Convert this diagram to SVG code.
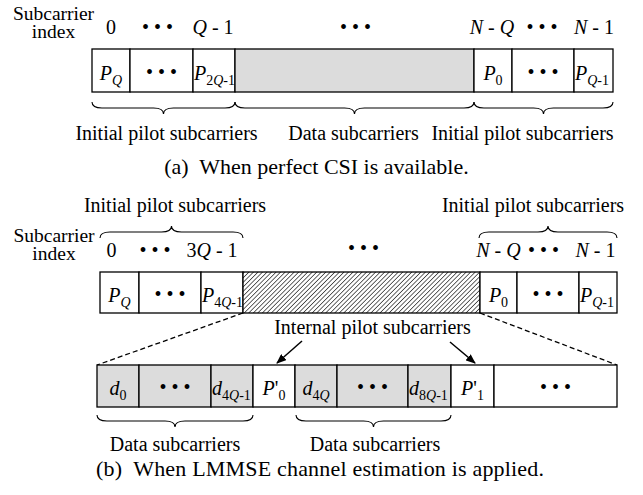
<svg xmlns="http://www.w3.org/2000/svg" width="643" height="495" viewBox="0 0 643 495">
<style>
text{font-family:"Liberation Serif","Times New Roman",serif;font-size:20px;fill:#000}
.m{text-anchor:middle}
.i{font-style:italic}
.s{font-size:14px}
.cap{font-size:22px}
.lbl{font-size:19.5px}
.cell{stroke:#000;stroke-width:1.3;fill:#fff}
.g{fill:#dcdcdc}
.h{fill:url(#hatch)}
.br{fill:none;stroke:#000;stroke-width:1.1}
.dash{stroke:#000;stroke-width:1.3;stroke-dasharray:5 3;fill:none}
.arr{stroke:#000;stroke-width:1.5;fill:none;marker-end:url(#ah)}
</style>
<defs>
<pattern id="hatch" width="3.2" height="3.2" patternUnits="userSpaceOnUse" patternTransform="rotate(45)">
<rect width="3.2" height="3.2" fill="#fff"/>
<line x1="0" y1="0" x2="0" y2="3.2" stroke="#000" stroke-width="1.2"/>
</pattern>
<marker id="ah" markerWidth="10" markerHeight="8" refX="9" refY="4" orient="auto" markerUnits="userSpaceOnUse">
<path d="M0,0 L10,4 L0,8 z" fill="#000"/>
</marker>
</defs>

<!-- (a) -->
<g id="a-index">
<text class="m lbl" x="53.5" y="20">Subcarrier</text>
<text class="m lbl" x="53.5" y="38">index</text>
<text class="m" x="111" y="34">0</text>
<text class="m" x="157.5" y="34">• • •</text>
<text class="m" x="213" y="34"><tspan class="i">Q</tspan> - 1</text>
<text class="m" x="355.5" y="34">• • •</text>
<text class="m" x="492" y="34"><tspan class="i">N</tspan> - <tspan class="i">Q</tspan></text>
<text class="m" x="542" y="34">• • •</text>
<text class="m" x="594" y="34"><tspan class="i">N</tspan> - 1</text>
</g>
<g id="a-row">
<g id="a-c1"><rect class="cell" x="92" y="49" width="38" height="43"/><text class="m" x="111" y="80"><tspan class="i">P</tspan><tspan class="s i" dy="5">Q</tspan></text></g>
<g id="a-c2"><rect class="cell" x="130" y="49" width="63" height="43"/><text class="m" x="161.5" y="79">• • •</text></g>
<g id="a-c3"><rect class="cell" x="193" y="49" width="42" height="43"/><text x="194" y="80"><tspan class="i">P</tspan><tspan class="s" dy="5">2<tspan class="i">Q</tspan>-1</tspan></text></g>
<g id="a-c4"><rect class="cell g" x="235" y="49" width="239" height="43"/></g>
<g id="a-c5"><rect class="cell" x="474" y="49" width="38" height="43"/><text class="m" x="493" y="80"><tspan class="i">P</tspan><tspan class="s" dy="5">0</tspan></text></g>
<g id="a-c6"><rect class="cell" x="512" y="49" width="62" height="43"/><text class="m" x="543" y="79">• • •</text></g>
<g id="a-c7"><rect class="cell" x="574" y="49" width="39" height="43"/><text x="575" y="80"><tspan class="i">P</tspan><tspan class="s" dy="5"><tspan class="i">Q</tspan>-1</tspan></text></g>
</g>
<g id="a-braces">
<path class="br" d="M92,102 C92,107 96,108 102,108 L153.5,108 C159.5,108 163.5,109 163.5,114 C163.5,109 167.5,108 173.5,108 L225,108 C231,108 235,107 235,102"/>
<path class="br" d="M235,102 C235,107 239,108 245,108 L344.5,108 C350.5,108 354.5,109 354.5,114 C354.5,109 358.5,108 364.5,108 L464,108 C470,108 474,107 474,102"/>
<path class="br" d="M474,102 C474,107 478,108 484,108 L533.5,108 C539.5,108 543.5,109 543.5,114 C543.5,109 547.5,108 553.5,108 L603,108 C609,108 613,107 613,102"/>
</g>
<g id="a-labels">
<text class="m" x="166.5" y="140">Initial pilot subcarriers</text>
<text class="m" x="353.5" y="140">Data subcarriers</text>
<text class="m" x="522.5" y="140">Initial pilot subcarriers</text>
<text class="m cap" x="316.5" y="174">(a)&#160; When perfect CSI is available.</text>
</g>

<!-- (b) -->
<g id="b-top">
<text class="m" x="175" y="212">Initial pilot subcarriers</text>
<text class="m" x="533" y="212">Initial pilot subcarriers</text>
<path class="br" d="M100,238 C100,233 104,232 110,232 L161.5,232 C167.5,232 171.5,231 171.5,226 C171.5,231 175.5,232 181.5,232 L233,232 C239,232 243,233 243,238"/>
<path class="br" d="M479,238 C479,233 483,232 489,232 L538,232 C544,232 548,231 548,226 C548,231 552,232 558,232 L607,232 C613,232 617,233 617,238"/>
</g>
<g id="b-index">
<text class="m lbl" x="54" y="242">Subcarrier</text>
<text class="m lbl" x="54" y="260">index</text>
<text class="m" x="111.5" y="257">0</text>
<text class="m" x="155" y="257">• • •</text>
<text class="m" x="212" y="257">3<tspan class="i">Q</tspan> - 1</text>
<text class="m" x="363.5" y="255">• • •</text>
<text class="m" x="498.5" y="257"><tspan class="i">N</tspan> - <tspan class="i">Q</tspan></text>
<text class="m" x="543.5" y="257">• • •</text>
<text class="m" x="595.5" y="257"><tspan class="i">N</tspan> - 1</text>
</g>
<g id="b-row1">
<g id="b1-c1"><rect class="cell" x="100" y="272" width="39" height="41"/><text class="m" x="119.5" y="302"><tspan class="i">P</tspan><tspan class="s i" dy="5">Q</tspan></text></g>
<g id="b1-c2"><rect class="cell" x="139" y="272" width="62" height="41"/><text class="m" x="170" y="301">• • •</text></g>
<g id="b1-c3"><rect class="cell" x="201" y="272" width="42" height="41"/><text x="202" y="302"><tspan class="i">P</tspan><tspan class="s" dy="5">4<tspan class="i">Q</tspan>-1</tspan></text></g>
<g id="b1-c4"><rect class="cell h" x="243" y="272" width="237" height="41"/></g>
<g id="b1-c5"><rect class="cell" x="480" y="272" width="37" height="41"/><text class="m" x="498.5" y="302"><tspan class="i">P</tspan><tspan class="s" dy="5">0</tspan></text></g>
<g id="b1-c6"><rect class="cell" x="517" y="272" width="62" height="41"/><text class="m" x="548" y="301">• • •</text></g>
<g id="b1-c7"><rect class="cell" x="579" y="272" width="38" height="41"/><text x="580" y="302"><tspan class="i">P</tspan><tspan class="s" dy="5"><tspan class="i">Q</tspan>-1</tspan></text></g>
</g>
<g id="connectors">
<line class="dash" x1="243" y1="313" x2="97" y2="365"/>
<line class="dash" x1="480" y1="313" x2="617" y2="365"/>
<line class="arr" x1="302" y1="341" x2="277" y2="363"/>
<line class="arr" x1="450" y1="342" x2="475" y2="363"/>
</g>
<g id="b-internal">
<text class="m" x="372.5" y="334">Internal pilot subcarriers</text>
</g>
<g id="b-row2">
<g id="b2-c1"><rect class="cell g" x="97" y="365" width="42" height="42"/><text class="m" x="118" y="395"><tspan class="i">d</tspan><tspan class="s" dy="5">0</tspan></text></g>
<g id="b2-c2"><rect class="cell g" x="139" y="365" width="72" height="42"/><text class="m" x="175" y="394">• • •</text></g>
<g id="b2-c3"><rect class="cell g" x="211" y="365" width="42" height="42"/><text x="212" y="395"><tspan class="i">d</tspan><tspan class="s" dy="5">4<tspan class="i">Q</tspan>-1</tspan></text></g>
<g id="b2-c4"><rect class="cell" x="253" y="365" width="42" height="42"/><text class="m" x="274" y="395"><tspan class="i">P</tspan>'<tspan class="s" dy="5">0</tspan></text></g>
<g id="b2-c5"><rect class="cell g" x="295" y="365" width="42" height="42"/><text class="m" x="316" y="395"><tspan class="i">d</tspan><tspan class="s" dy="5">4<tspan class="i">Q</tspan></tspan></text></g>
<g id="b2-c6"><rect class="cell g" x="337" y="365" width="71" height="42"/><text class="m" x="372.5" y="394">• • •</text></g>
<g id="b2-c7"><rect class="cell g" x="408" y="365" width="43" height="42"/><text x="409" y="395"><tspan class="i">d</tspan><tspan class="s" dy="5">8<tspan class="i">Q</tspan>-1</tspan></text></g>
<g id="b2-c8"><rect class="cell" x="451" y="365" width="43" height="42"/><text class="m" x="472.5" y="395"><tspan class="i">P</tspan>'<tspan class="s" dy="5">1</tspan></text></g>
<g id="b2-c9"><rect class="cell" x="494" y="365" width="123" height="42"/><text class="m" x="555.5" y="394">• • •</text></g>
</g>
<g id="b-bottom">
<path class="br" d="M97,415 C97,420 101,421 107,421 L165,421 C171,421 175,422 175,427 C175,422 179,421 185,421 L243,421 C249,421 253,420 253,415"/>
<path class="br" d="M296,415 C296,420 300,421 306,421 L363.5,421 C369.5,421 373.5,422 373.5,427 C373.5,422 377.5,421 383.5,421 L441,421 C447,421 451,420 451,415"/>
<text class="m" x="175" y="451">Data subcarriers</text>
<text class="m" x="375" y="451">Data subcarriers</text>
<text class="m cap" x="320" y="476" textLength="448" lengthAdjust="spacing">(b)&#160; When LMMSE channel estimation is applied.</text>
</g>
</svg>
